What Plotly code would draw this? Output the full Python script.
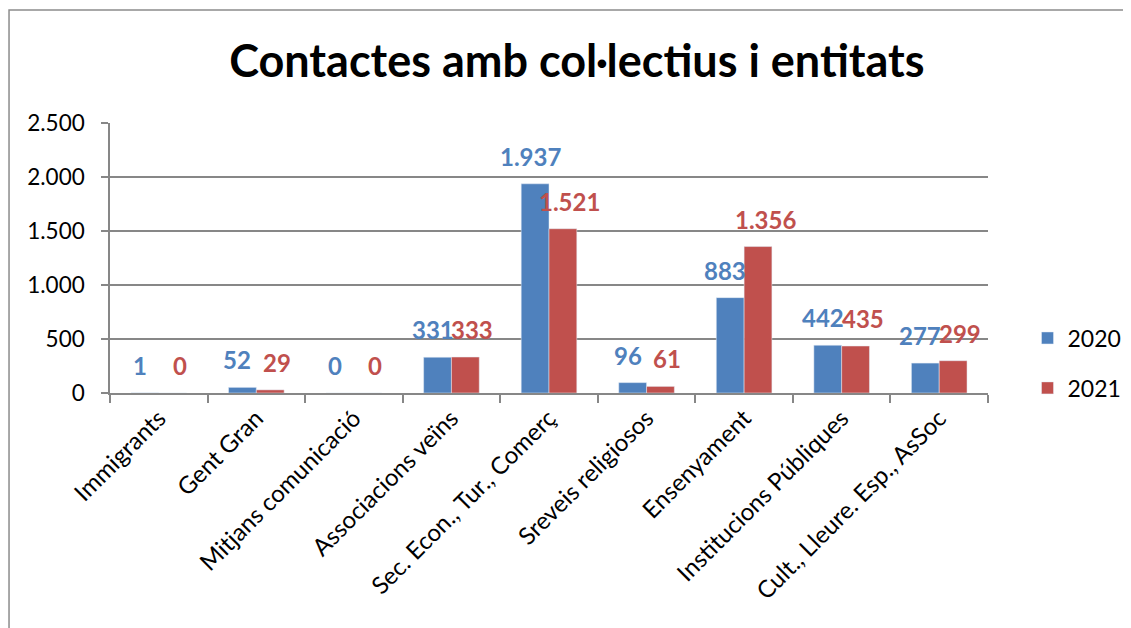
import plotly.graph_objects as go

categories = ["Immigrants", "Gent Gran", "Mitjans comunicació", "Associacions veïns",
              "Sec. Econ., Tur., Comerç", "Sreveis religiosos", "Ensenyament",
              "Institucions Públiques", "Cult., Lleure. Esp., AsSoc"]
values_2020 = [1, 52, 0, 331, 1937, 96, 883, 442, 277]
values_2021 = [0, 29, 0, 333, 1521, 61, 1356, 435, 299]
y_ticks = [0, 500, 1000, 1500, 2000, 2500]

BLUE = "#4F81BD"
RED = "#C0504D"
GRID = "#878787"
FONT = "Lato, 'Open Sans', sans-serif"
BARGAP = 0.43


def fmt(v):
    # Catalan style thousands separator
    return f"{v:,}".replace(",", ".")


fig = go.Figure()
fig.add_trace(go.Bar(x=categories, y=values_2020, name="2020", marker_color=BLUE,
                     legendgroup="a"))
fig.add_trace(go.Bar(x=categories, y=values_2021, name="2021", marker_color=RED,
                     legendgroup="b"))

# value labels above each bar
off = (1 - BARGAP) / 4
annotations = []
for i in range(len(categories)):
    for vals, col, dx, px in [(values_2020, BLUE, -off, -5), (values_2021, RED, off, 7)]:
        annotations.append(dict(x=i + dx, y=vals[i], xref="x", yref="y",
                                text="<b>" + fmt(vals[i]) + "</b>", showarrow=False,
                                yanchor="bottom", yshift=11, xshift=px,
                                font=dict(family=FONT, size=24, color=col)))

# the html page puts the figure 8px in from the top left corner
fig.update_layout(
    width=1131, height=628,
    margin=dict(l=102, r=142, t=115, b=243),
    plot_bgcolor="white", paper_bgcolor="white",
    barmode="group", bargap=BARGAP, bargroupgap=0,
    separators=",.",
    font=dict(family=FONT, size=22, color="black"),
    title=dict(text="<b>Contactes amb col·lectius i entitats</b>", x=0.503, xref="container",
               xanchor="center", y=0.915, yanchor="middle",
               font=dict(family=FONT, size=45, color="black")),
    legend=dict(x=1.045, y=0.111, xanchor="left", yanchor="middle",
                font=dict(size=23), tracegroupgap=17, bgcolor="rgba(0,0,0,0)"),
    annotations=annotations,
    shapes=[dict(type="rect", xref="paper", yref="paper", x0=-0.115, x1=1.5,
                 y0=-1.5, y1=1.4185, line=dict(color="#8c8c8c", width=1.5),
                 layer="below")],
)

fig.update_xaxes(showline=True, linecolor=GRID, linewidth=1.5, ticks="outside",
                 tickson="boundaries", ticklen=8, tickcolor=GRID, tickwidth=1.5,
                 tickangle=-45, showgrid=False, tickfont=dict(size=24), automargin=False)
fig.update_yaxes(range=[0, 2500], tickvals=y_ticks, tickformat=",d", showline=True,
                 linecolor=GRID, linewidth=1.5, ticks="outside", ticklen=7,
                 tickcolor=GRID, tickwidth=1.5, showgrid=True, gridcolor=GRID,
                 gridwidth=1.5, zeroline=False, tickfont=dict(size=22.5),
                 ticklabelstandoff=12, automargin=False)

fig.write_html("out.html")
